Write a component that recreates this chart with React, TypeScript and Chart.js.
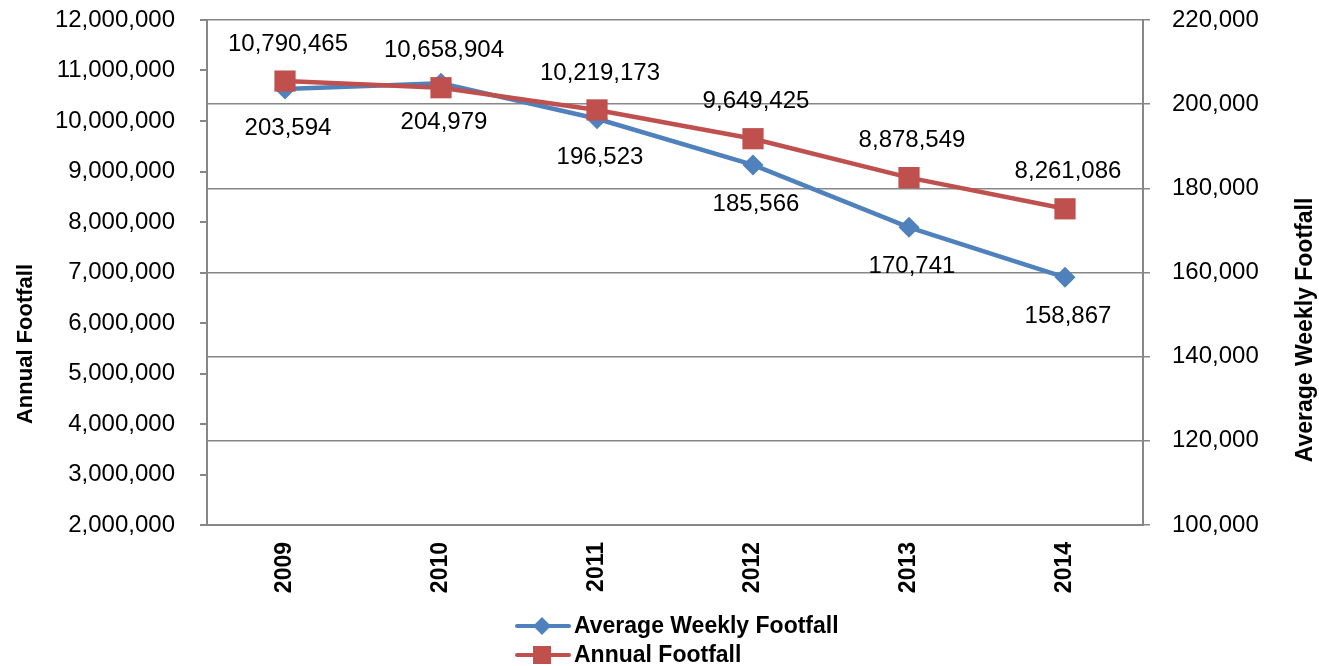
import React, { useEffect, useRef } from "react";
import { Chart, registerables } from "chart.js";

Chart.register(...registerables);

const categories = ["2009", "2010", "2011", "2012", "2013", "2014"];
const avgWeeklyFootfall = [203594, 204979, 196523, 185566, 170741, 158867];
const annualFootfall = [10790465, 10658904, 10219173, 9649425, 8878549, 8261086];
const seriesNames = ["Average Weekly Footfall", "Annual Footfall"];
const leftTitle = "Annual Footfall";
const rightTitle = "Average Weekly Footfall";

const BLUE = "#4F81BD";
const RED = "#C0504D";
const GRID = "#878787";
const FONT = "'Liberation Sans', Arial, sans-serif";

const fmt = (v: number) => Number(v).toLocaleString("en-US");

export default function App() {
  const ref = useRef<HTMLCanvasElement | null>(null);

  useEffect(() => {
    if (!ref.current) return;

    const labelsPlugin = {
      id: "pointLabels",
      afterDatasetsDraw(chart: any) {
        const ctx = chart.ctx;
        ctx.save();
        ctx.font = `24px ${FONT}`;
        ctx.fillStyle = "#000";
        ctx.textAlign = "center";
        ctx.textBaseline = "middle";
        chart.data.datasets.forEach((ds: any, di: number) => {
          const meta = chart.getDatasetMeta(di);
          meta.data.forEach((pt: any, i: number) => {
            const above = ds.yAxisID === "y";
            const dy = above ? -37 : 39;
            ctx.fillText(fmt(ds.data[i]), pt.x + 3, pt.y + dy);
          });
        });
        ctx.restore();
      },
    };

    const extrasPlugin = {
      id: "extras",
      afterDraw(chart: any) {
        const ctx = chart.ctx;
        ctx.save();
        ctx.fillStyle = "#000";
        ctx.textAlign = "center";
        ctx.textBaseline = "middle";
        // left axis title
        ctx.font = `bold 22px ${FONT}`;
        ctx.save();
        ctx.translate(26, 344);
        ctx.rotate(-Math.PI / 2);
        ctx.fillText(leftTitle, 0, 0);
        ctx.restore();
        // right axis title, reading bottom to top
        ctx.font = `bold 23px ${FONT}`;
        ctx.save();
        ctx.translate(1306, 330);
        ctx.rotate(-Math.PI / 2);
        ctx.fillText(rightTitle, 0, 0);
        ctx.restore();

        // legend
        const items = [
          { ds: chart.data.datasets[0], y: 626 },
          { ds: chart.data.datasets[1], y: 655 },
        ];
        items.forEach(({ ds, y }) => {
          ctx.strokeStyle = ds.borderColor;
          ctx.lineWidth = 4;
          ctx.lineCap = "round";
          ctx.beginPath();
          ctx.moveTo(517, y);
          ctx.lineTo(569, y);
          ctx.stroke();
          ctx.fillStyle = ds.backgroundColor;
          if (ds.pointStyle === "rectRot") {
            ctx.beginPath();
            ctx.moveTo(542, y - 9);
            ctx.lineTo(551, y);
            ctx.lineTo(542, y + 9);
            ctx.lineTo(533, y);
            ctx.closePath();
            ctx.fill();
          } else {
            ctx.fillRect(533, y - 9, 18, 18);
          }
          ctx.fillStyle = "#000";
          ctx.font = `bold 23px ${FONT}`;
          ctx.textAlign = "left";
          ctx.fillText(ds.label, 574, y + 1);
        });
        ctx.restore();
      },
    };

    const chart = new Chart(ref.current, {
      type: "line",
      data: {
        labels: categories,
        datasets: [
          {
            label: seriesNames[0],
            data: avgWeeklyFootfall,
            yAxisID: "y1",
            borderColor: BLUE,
            backgroundColor: BLUE,
            borderWidth: 4.5,
            pointStyle: "rectRot",
            pointRadius: 10.5,
            pointBorderWidth: 0,
            order: 1,
          },
          {
            label: seriesNames[1],
            data: annualFootfall,
            yAxisID: "y",
            borderColor: RED,
            backgroundColor: RED,
            borderWidth: 4.5,
            pointStyle: "rect",
            pointRadius: 15,
            pointBorderWidth: 0,
            order: 0,
          },
        ],
      },
      options: {
        responsive: false,
        animation: false,
        layout: { padding: { top: 20, left: 0, right: 0, bottom: 0 } },
        plugins: {
          legend: { display: false },
          tooltip: { enabled: false },
        },
        scales: {
          x: {
            offset: true,
            grid: { display: true, drawOnChartArea: false, drawTicks: false },
            border: { display: true, color: GRID, width: 2 },
            ticks: {
              minRotation: 90,
              maxRotation: 90,
              padding: 17,
              color: "#000",
              font: { family: FONT, size: 23, weight: "bold" },
            },
            afterFit(scale: any) {
              scale.height = 141;
              scale.paddingLeft = 0;
              scale.paddingRight = 0;
              scale.paddingTop = 0;
              scale.paddingBottom = 0;
            },
          },
          y: {
            position: "left",
            min: 2000000,
            max: 12000000,
            ticks: {
              stepSize: 1000000,
              padding: 25,
              color: "#000",
              font: { family: FONT, size: 24 },
              callback: (v: any) => fmt(v),
            },
            grid: { drawOnChartArea: false, drawTicks: true, tickLength: 7, color: GRID, lineWidth: 2 },
            border: { display: true, color: GRID, width: 2 },
            afterFit(scale: any) {
              scale.width = 207;
              scale.paddingTop = 0;
              scale.paddingBottom = 0;
            },
          },
          y1: {
            position: "right",
            min: 100000,
            max: 220000,
            ticks: {
              stepSize: 20000,
              padding: 22,
              color: "#000",
              font: { family: FONT, size: 24 },
              callback: (v: any) => fmt(v),
            },
            grid: { drawOnChartArea: true, drawTicks: true, tickLength: 7, color: GRID, lineWidth: 1.5 },
            border: { display: true, color: GRID, width: 2 },
            afterFit(scale: any) {
              scale.width = 176;
              scale.paddingTop = 0;
              scale.paddingBottom = 0;
            },
          },
        },
      },
      plugins: [labelsPlugin, extrasPlugin],
    } as any);

    return () => chart.destroy();
  }, []);

  return (
    <div style={{ position: "absolute", left: 0, top: 0, width: 1319, height: 666, background: "#fff" }}>
      <canvas ref={ref} width={1319} height={666} style={{ display: "block" }} />
    </div>
  );
}
